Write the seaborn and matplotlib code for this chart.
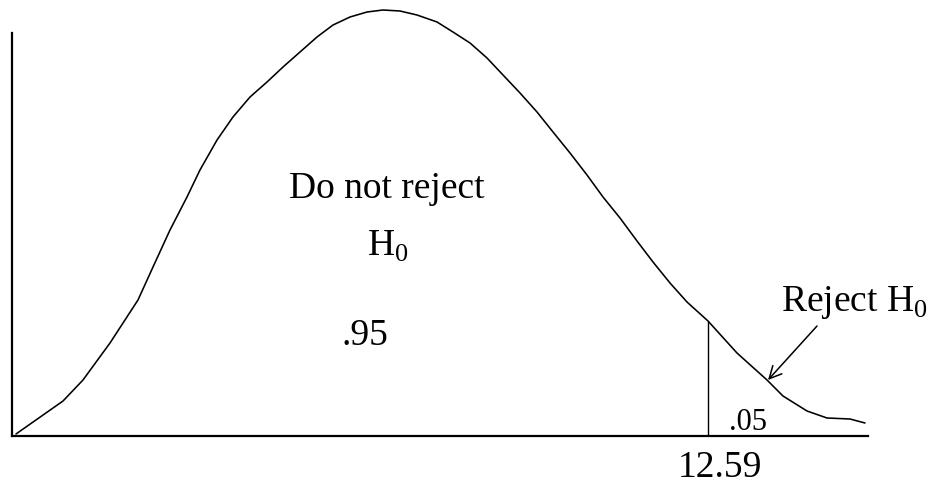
import matplotlib
matplotlib.use('Agg')
import matplotlib.pyplot as plt
import numpy as np
import pandas as pd
import seaborn as sns

sns.set_style('white')
plt.rcParams['font.family'] = ['Liberation Serif', 'DejaVu Serif']
plt.rcParams['text.color'] = 'black'
plt.rcParams['mathtext.fontset'] = 'custom'
plt.rcParams['mathtext.rm'] = 'Liberation Serif'

# curve (chi-square value, height)
curve_x = [0.0, 0.855, 1.218, 1.709, 2.218, 2.491, 2.8, 3.109, 3.345, 3.655,
           3.945, 4.255, 4.564, 4.855, 5.164, 5.473, 5.764, 6.073, 6.382, 6.673,
           6.982, 7.291, 7.655, 7.945, 8.255, 8.564, 8.855, 9.164, 9.473, 9.764,
           10.073, 10.382, 10.673, 10.982, 11.291, 11.582, 11.891, 12.2, 12.582,
           13.109, 13.655, 13.945, 14.382, 14.745, 15.164, 15.436]
curve_y = [0.001, 0.0175, 0.028, 0.0465, 0.068, 0.0845, 0.103, 0.1195, 0.133, 0.148,
           0.1595, 0.1695, 0.177, 0.1845, 0.192, 0.1995, 0.2055, 0.2095, 0.212, 0.213,
           0.2125, 0.2105, 0.207, 0.202, 0.1965, 0.189, 0.1805, 0.1715, 0.162, 0.152,
           0.1415, 0.1305, 0.1195, 0.109, 0.0975, 0.087, 0.0765, 0.067, 0.0575,
           0.0415, 0.028, 0.02, 0.0125, 0.009, 0.0085, 0.0065]

critical = 12.59
crit_height = 0.0575
accept_area = '.95'
reject_area = '.05'

df = pd.DataFrame({'x': curve_x, 'y': curve_y})

fig = plt.figure(figsize=(9.3, 4.87), dpi=100)
ax = fig.add_axes([12 / 930, 51 / 487, 856 / 930, 403 / 487])

sns.lineplot(data=df, x='x', y='y', ax=ax, color='black', lw=1.15,
             sort=False, clip_on=False, solid_joinstyle='round',
             solid_capstyle='round')
ax.set_xlim(-0.0727, 15.491)
ax.set_ylim(0, 0.2015)

# spines as the drawn axes
sns.despine(ax=ax, top=True, right=True)
for s in ['left', 'bottom']:
    ax.spines[s].set_linewidth(1.6)
    ax.spines[s].set_color('black')
ax.set_xticks([])
ax.set_yticks([])
ax.set_xlabel('')
ax.set_ylabel('')

# critical value line
ax.plot([critical, critical], [0, crit_height], color='black', lw=1.0)

ax.text(6.745, 0.119, 'Do not reject', ha='center', va='baseline', fontsize=27)
ax.text(6.76, 0.09, r'H$_\mathrm{0}$', ha='center', va='baseline', fontsize=27)
ax.text(6.345, 0.0455, accept_area, ha='center', va='baseline', fontsize=27)
ax.text(15.236, 0.0625, r'Reject H$_\mathrm{0}$', ha='center', va='baseline',
        fontsize=27, clip_on=False)
ax.text(13.309, 0.003, reject_area, ha='center', va='baseline', fontsize=22)
ax.text(12.8, -0.0205, str(critical), ha='center', va='baseline', fontsize=27)

ax.annotate('', xy=(13.673, 0.028), xytext=(14.564, 0.055),
            arrowprops=dict(arrowstyle='->', color='black', lw=1.1,
                            mutation_scale=22, shrinkA=0, shrinkB=0))

fig.savefig('out.png', dpi=100, facecolor='white')
